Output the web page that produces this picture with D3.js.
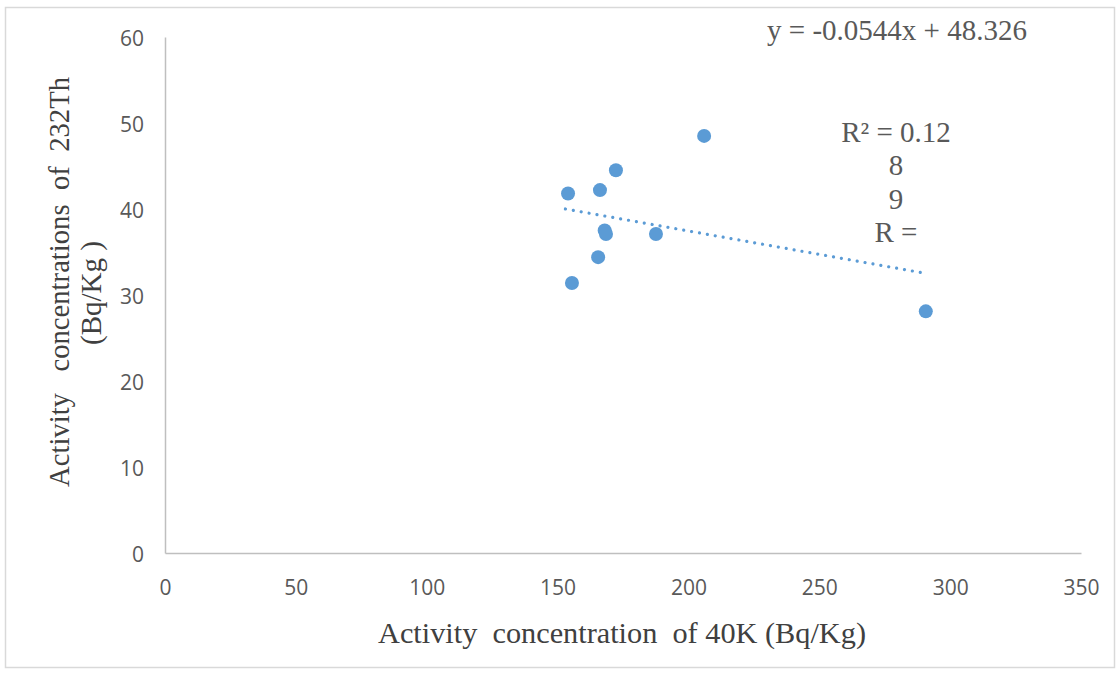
<!DOCTYPE html>
<html><head><meta charset="utf-8">
<script src="https://cdn.jsdelivr.net/npm/d3@7"></script>
<style>body{margin:0;background:#fff}text{white-space:pre}</style>
</head><body>
<script>
const xValues = [206, 172.3, 154, 166.2, 168, 168.5, 187.6, 165.5, 155.5, 290.7];
const yValues = [48.5, 44.5, 41.8, 42.2, 37.5, 37.1, 37.1, 34.4, 31.4, 28.1];
const xTicks = [0, 50, 100, 150, 200, 250, 300, 350];
const yTicks = [0, 10, 20, 30, 40, 50, 60];
const slope = -0.0544, intercept = 48.326;
const trendRange = [153, 290];
const eqLabel = "y = -0.0544x + 48.326";
const r2Lines = ["R² = 0.12", "8", "9", "R ="];

const W = 1119, H = 673;
const svg = d3.select("body").append("svg").attr("width", W).attr("height", H);
svg.append("rect").attr("x", 5.5).attr("y", 7.5).attr("width", 1109).attr("height", 660)
  .attr("fill", "#fff").attr("stroke", "#d9d9d9").attr("stroke-width", 1.5);

const x = d3.scaleLinear().domain([0, 350]).range([165, 1081]);
const y = d3.scaleLinear().domain([0, 60]).range([553, 37]);

const sans = "'Open Sans', 'Noto Sans', sans-serif";
const serif = "'Liberation Serif', 'DejaVu Serif', serif";

// axes
const xAxis = svg.append("g").attr("transform", `translate(0,${y(0)})`)
  .call(d3.axisBottom(x).tickValues(xTicks).tickSize(0).tickPadding(27));
const yAxis = svg.append("g").attr("transform", `translate(${x(0)},0)`)
  .call(d3.axisLeft(y).tickValues(yTicks).tickSize(0).tickPadding(21));
[xAxis, yAxis].forEach(g => {
  g.select(".domain").attr("stroke", "#bfbfbf").attr("stroke-width", 1.5);
  g.selectAll("text").attr("font-family", sans).attr("font-size", 21).attr("fill", "#595959");
});
yAxis.selectAll("text").attr("dy", "0.42em");

// trendline
svg.append("line")
  .attr("x1", x(trendRange[0])).attr("y1", y(slope * trendRange[0] + intercept))
  .attr("x2", x(trendRange[1])).attr("y2", y(slope * trendRange[1] + intercept))
  .attr("stroke", "#5b9bd5").attr("stroke-width", 3.2)
  .attr("stroke-dasharray", "0.01 8").attr("stroke-linecap", "round");

// points
const pts = xValues.map((v, i) => [v, yValues[i]]);
svg.append("g").selectAll("circle").data(pts).join("circle")
  .attr("cx", d => x(d[0])).attr("cy", d => y(d[1])).attr("r", 7)
  .attr("fill", "#5b9bd5");

// equation labels
svg.append("text").attr("x", 897).attr("y", 40).attr("text-anchor", "middle")
  .attr("font-family", serif).attr("font-size", 29).attr("fill", "#595959")
  .attr("textLength", 260).attr("lengthAdjust", "spacingAndGlyphs").text(eqLabel);
svg.append("g").selectAll("text").data(r2Lines).join("text")
  .attr("x", 896).attr("y", (d, i) => 142 + i * 33.3).attr("text-anchor", "middle")
  .attr("font-family", serif).attr("font-size", 29).attr("fill", "#595959").text(d => d);

// axis titles
svg.append("text").attr("x", 622).attr("y", 643).attr("text-anchor", "middle")
  .attr("font-family", serif).attr("font-size", 29).attr("fill", "#404040")
  .attr("textLength", 488).attr("lengthAdjust", "spacingAndGlyphs")
  .text("Activity  concentration  of 40K (Bq/Kg)");
const yt = svg.append("g").attr("transform", "translate(69,282) rotate(-90)");
yt.append("text").attr("x", 0).attr("y", 0).attr("text-anchor", "middle")
  .attr("font-family", serif).attr("font-size", 29).attr("fill", "#404040")
  .attr("textLength", 410).attr("lengthAdjust", "spacingAndGlyphs")
  .text("Activity   concentrations  of  232Th");
yt.append("text").attr("x", -11).attr("y", 32).attr("text-anchor", "middle")
  .attr("font-family", serif).attr("font-size", 29).attr("fill", "#404040")
  .text("(Bq/Kg )");
</script>
</body></html>
